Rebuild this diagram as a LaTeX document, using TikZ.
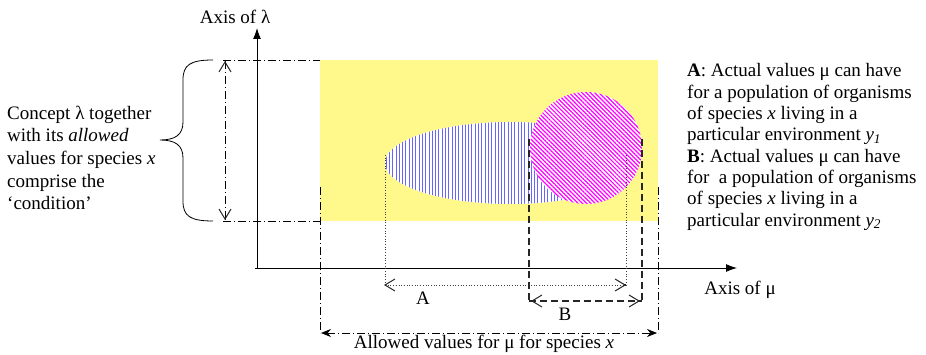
\documentclass[tikz,border=0pt]{standalone}
\usepackage{fontspec}
\setmainfont{Liberation Serif}
\usetikzlibrary{arrows.meta,patterns.meta}

\begin{document}
\begin{tikzpicture}[x=1pt,y=-1pt,
    every node/.style={inner sep=0pt,font=\fontsize{19}{22.6}\selectfont},
    axis/.style={line width=0.9pt,-{Latex[length=11pt,width=8pt]}},
    dashdot/.style={line width=0.9pt,dash pattern=on 8pt off 3pt on 1pt off 3pt},
    rangeA/.style={line width=0.7pt,black!75,dotted},
    rangeB/.style={line width=1.1pt,black!85,dash pattern=on 7pt off 4pt},
    barb/.style={solid,line width=1pt,black!85,-{Straight Barb[length=10pt,width=12pt]}}]
  \useasboundingbox (0,0) rectangle (926,355);

  % allowed region of the condition
  \fill[yellow!45] (320,60) rectangle (658,221);
  \path[preaction={fill=white},pattern color=blue!60,
    pattern={Lines[angle=90,distance=3.3pt,line width=1pt]}]
    (510,163) ellipse [x radius=125,y radius=41];
  \path[preaction={fill=white},pattern color=magenta,
    pattern={Lines[angle=-45,distance=3pt,line width=1.2pt]}]
    (586,148) circle [radius=56];

  % axes
  \coordinate (orig) at (255,268);
  \coordinate (xtip) at (737,268);
  \coordinate (ytip) at (257,28);
  \draw[axis] (orig) -- (xtip);
  \draw[axis] (257,268) -- (ytip);
  \node (lamaxis) at (235,17) {Axis of λ};
  \node (muaxis) at (740,290) {Axis of μ};

  % lambda range
  \coordinate (ltop) at (223,60);
  \coordinate (lbot) at (223,221);
  \coordinate (lup) at (225,61);
  \coordinate (ldown) at (225,220);
  \draw[dashdot] (ltop) -- (320,60);
  \draw[dashdot] (lbot) -- (320,221);
  \draw[dashdot] (lup) -- (ldown);
  \draw[barb] ([yshift=-1pt]lup) -- (lup);
  \draw[barb] ([yshift=1pt]ldown) -- (ldown);
  \draw[line width=0.8pt] (213,60) .. controls (190,60) and (183,65) .. (183,80)
    -- (183,122) .. controls (183,135) and (175,140) .. (160,140)
    .. controls (175,140) and (183,145) .. (183,158)
    -- (183,201) .. controls (183,216) and (190,221) .. (213,221);
  \node[anchor=west,align=left] (cond) at (7,158)
    {Concept λ together\\with its \textit{allowed}\\values for species \textit{x}\\comprise the\\‘condition’};

  % range A
  \coordinate (aL) at (385,285);
  \coordinate (aR) at (626,285);
  \draw[rangeA] (385,155) -- (aL);
  \draw[rangeA] (626,155) -- (aR);
  \draw[rangeA] (aL) -- (aR);
  \draw[barb] ([xshift=1pt]aL) -- ([xshift=-1pt]aL);
  \draw[barb] ([xshift=-1pt]aR) -- (aR);
  \node (labA) at (423,298) {A};

  % range B
  \coordinate (bL) at (529,301);
  \coordinate (bR) at (642,301);
  \draw[rangeB] (529,139) -- (bL);
  \draw[rangeB] (642,139) -- (bR);
  \draw[rangeB] (bL) -- (bR);
  \draw[barb] ([xshift=3pt]bL) -- ([xshift=2pt]bL);
  \draw[barb] ([xshift=-3pt]bR) -- ([xshift=-2pt]bR);
  \node (labB) at (565,314) {B};

  % allowed values
  \coordinate (allL) at (320,333);
  \coordinate (allR) at (658,333);
  \draw[dashdot] (320,187) -- (allL);
  \draw[dashdot] (658,187) -- (allR);
  \draw[dashdot,{Stealth[length=10pt,width=8pt]}-{Stealth[length=10pt,width=8pt]}] (321,333) -- (657,333);
  \node (laball) at (484,344) {Allowed values for μ for species \textit{x}};

  \node[anchor=west,align=left,font=\fontsize{19}{21.3}\selectfont] (legend) at (687,147)
    {\textbf{A}: Actual values μ can have\\
     for a population of organisms\\
     of species \textit{x} living in a\\
     particular environment \textit{y}\textsubscript{\textit{1}}\\
     \textbf{B}: Actual values μ can have\\
     for\ \ a population of organisms\\
     of species \textit{x} living in a\\
     particular environment \textit{y}\textsubscript{\textit{2}}};
\end{tikzpicture}
\end{document}
